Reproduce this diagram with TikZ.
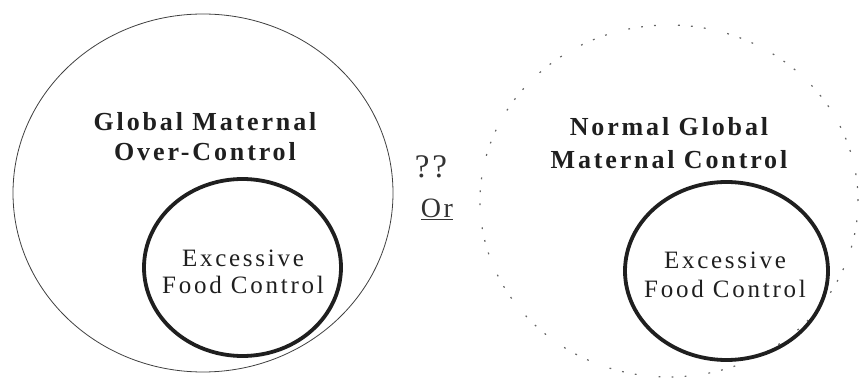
\documentclass[tikz,border=0pt]{standalone}
\usepackage{fontspec}
\setmainfont{Liberation Serif}
\newfontfamily\spacedserif[LetterSpace=11]{Liberation Serif}
\newfontfamily\widespaced[LetterSpace=9]{Liberation Serif}
\usetikzlibrary{shapes.geometric}
\tikzset{
  outerring/.style={ellipse, draw=black!75, line width=0.8pt, inner sep=0pt},
  innerring/.style={ellipse, draw=black!88, line width=3.8pt, inner sep=0pt},
  dotring/.style={ellipse, draw=black!60, line width=1.2pt,
    dash pattern=on 1.8pt off 11.2pt on 1.8pt off 11.2pt on 1.8pt off 22.2pt, inner sep=0pt},
  headtext/.style={font=\spacedserif\bfseries\fontsize{26}{30}\selectfont, align=center, text=black!88, inner sep=0pt},
  bodytext/.style={font=\spacedserif\fontsize{25}{27}\selectfont, align=center, text=black!88, inner sep=0pt},
  marktext/.style={text=black!80, inner sep=0pt}
}
\begin{document}
\begin{tikzpicture}[x=1pt, y=-1pt]
\useasboundingbox (0,0) rectangle (860,379);
% left group
\node[outerring, minimum width=380pt, minimum height=358pt] (outerL) at (203,193) {};
\node[innerring, minimum width=197pt, minimum height=177pt] (innerL) at (242.5,267.5) {};
\node[headtext] (headL) at (205,137) {Global Maternal\\Over-Control};
\node[bodytext] (bodyL) at (243,272) {Excessive\\Food Control};
% middle marks
\node[marktext, anchor=base, font=\widespaced\fontsize{33}{34}\selectfont] (qq) at (431,178) {??};
\node[marktext, anchor=base, font=\widespaced\fontsize{28}{30}\selectfont] (orw) at (437,218) {\underline{Or}};
% right group
\node[dotring, minimum width=378pt, minimum height=352pt] (outerR) at (669,201) {};
\node[innerring, minimum width=203pt, minimum height=178pt] (innerR) at (726.5,271) {};
\node[headtext, font=\spacedserif\bfseries\fontsize{26}{33}\selectfont] (headR) at (669,143) {Normal Global\\Maternal Control};
\node[bodytext, font=\spacedserif\fontsize{25}{29}\selectfont] (bodyR) at (725,275) {Excessive\\Food Control};
\end{tikzpicture}
\end{document}
